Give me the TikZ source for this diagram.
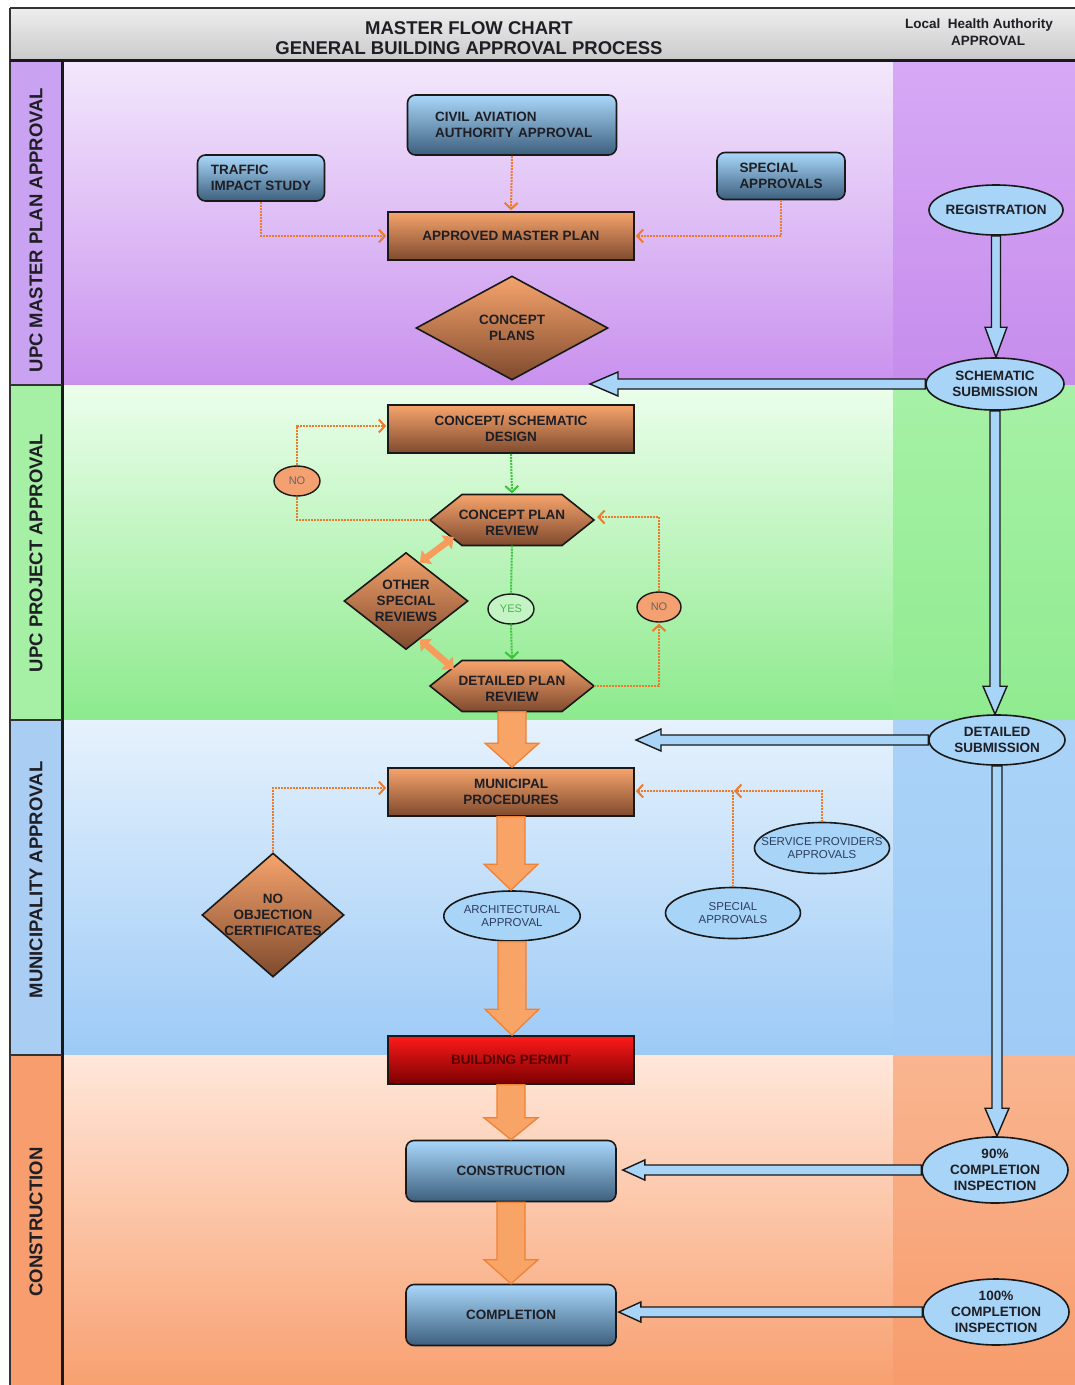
\documentclass[tikz,border=0pt]{standalone}
\usepackage{fontspec}
\setmainfont{Liberation Sans}
\usetikzlibrary{shapes.geometric,arrows.meta,calc}
\definecolor{hdrTop}{HTML}{EEEEEE}\definecolor{hdrBot}{HTML}{CACACA}
\definecolor{pTop}{HTML}{F3E8FC}\definecolor{pBot}{HTML}{C991EE}
\definecolor{pRT}{HTML}{D6A9F5}\definecolor{pRB}{HTML}{C68CEC}\definecolor{pLab}{HTML}{C9A3F2}
\definecolor{gTop}{HTML}{ECFEEC}\definecolor{gBot}{HTML}{8CEA8C}
\definecolor{gRT}{HTML}{A6F1A6}\definecolor{gRB}{HTML}{90EB90}\definecolor{gLab}{HTML}{A6F0A6}
\definecolor{bTop}{HTML}{E6F2FD}\definecolor{bBot}{HTML}{9CCAF6}
\definecolor{bRT}{HTML}{ABD3F8}\definecolor{bRB}{HTML}{9FCBF6}\definecolor{bLab}{HTML}{AACDF4}
\definecolor{oTop}{HTML}{FFE7DA}\definecolor{oBot}{HTML}{F8A070}
\definecolor{oRT}{HTML}{F9B590}\definecolor{oRB}{HTML}{F79C6C}\definecolor{oLab}{HTML}{F79D6E}
\definecolor{orTop}{HTML}{F6A46C}\definecolor{orMid}{HTML}{D9834F}\definecolor{orBot}{HTML}{7F4A2E}
\definecolor{blTop}{HTML}{A9D7FA}\definecolor{blMid}{HTML}{76A3CB}\definecolor{blBot}{HTML}{3D5F7D}
\definecolor{rdTop}{HTML}{FF1A1A}\definecolor{rdBot}{HTML}{7A0000}
\definecolor{lblue}{HTML}{A8D4F7}
\definecolor{arrFill}{HTML}{F8A467}\definecolor{arrEdge}{HTML}{EF8235}
\definecolor{dotOr}{HTML}{EE7A2C}\definecolor{dotGr}{HTML}{3CC43C}
\definecolor{noFill}{HTML}{F4A070}\definecolor{yesFill}{HTML}{C4F4C4}
\definecolor{txt}{HTML}{1E1E24}\definecolor{navy}{HTML}{2E3D5E}

\newcommand\blockdown[6]{\path[#1] let \p1=(#2), \p2=(#3) in (\x1-#4,\y1) -- (\x1-#4,\y2+#6) -- (\x1-#5,\y2+#6) -- (\x1,\y2) -- (\x1+#5,\y2+#6) -- (\x1+#4,\y2+#6) -- (\x1+#4,\y1) -- cycle;}
\newcommand\blockleft[6]{\path[#1] let \p1=(#2), \p2=(#3) in (\x1,\y1-#4) -- (\x2+#6,\y1-#4) -- (\x2+#6,\y1-#5) -- (\x2,\y1) -- (\x2+#6,\y1+#5) -- (\x2+#6,\y1+#4) -- (\x1,\y1+#4) -- cycle;}

\tikzset{
  bfont/.style={font=\bfseries\fontsize{13.5}{16}\selectfont},
  bx/.style={bfont, draw=black!90, line width=1.6pt, text=txt, align=center, inner sep=2pt},
  orgrad/.style={top color=orTop, middle color=orMid, bottom color=orBot},
  obox/.style={bx, rectangle, orgrad, minimum width=246pt, minimum height=48pt},
  bbox/.style={bx, rectangle, rounded corners=8pt, top color=blTop, middle color=blMid, bottom color=blBot},
  rbox/.style={bx, rectangle, top color=rdTop, bottom color=rdBot, minimum width=246pt, minimum height=48pt, text=rdBot!70!black},
  odiam/.style={bx, diamond, orgrad, inner sep=0pt},
  ell/.style={bx, ellipse, fill=lblue, inner sep=0pt},
  ellthin/.style={ell, font=\fontsize{11.5}{13}\selectfont, text=navy},
  hextext/.style={bfont, text=txt, align=center, minimum width=164pt, minimum height=51pt, inner sep=0pt},
  hexshape/.style={orgrad, draw=black!90, line width=1.6pt},
  small/.style={ellipse, draw=black!90, line width=1.4pt, inner sep=0pt, minimum width=46pt, minimum height=30pt, font=\fontsize{11}{12}\selectfont},
  dotbase/.style={line width=2pt, dash pattern=on 2pt off 1pt},
  tipb/.style={-{Straight Barb[length=6pt,width=13pt,line width=2pt]}, shorten >=1pt},
  odot/.style={draw=dotOr, dotbase, tipb},
  odotn/.style={draw=dotOr, dotbase},
  gdot/.style={draw=dotGr, dotbase, tipb},
  gdotn/.style={draw=dotGr, dotbase},
  bluearrow/.style={fill=lblue, draw=black!90, line width=1.4pt, line join=miter},
  orarrow/.style={fill=arrFill, draw=arrEdge, line width=1.3pt, line join=miter},
  dblarrow/.style={draw=arrFill!80!arrEdge, line width=6.5pt, {Triangle[length=9pt,width=17pt]}-{Triangle[length=9pt,width=17pt]}},
  lab/.style={rotate=90, font=\bfseries\fontsize{18.5}{20}\selectfont, text=txt},
}

\begin{document}
\begin{tikzpicture}[x=1pt,y=-1pt]
\useasboundingbox (0,0) rectangle (1075,1385);
\fill[white] (0,0) rectangle (1075,1385);
% header
\fill[top color=hdrTop, bottom color=hdrBot] (10,8) rectangle (1075,60);
% sections
\fill[top color=pTop, bottom color=pBot] (62,60) rectangle (893,385);
\fill[top color=pRT, bottom color=pRB] (893,60) rectangle (1075,385);
\fill[pLab] (10,60) rectangle (62,385);
\fill[top color=gTop, bottom color=gBot] (62,385) rectangle (893,720);
\fill[top color=gRT, bottom color=gRB] (893,385) rectangle (1075,720);
\fill[gLab] (10,385) rectangle (62,720);
\fill[top color=bTop, bottom color=bBot] (62,720) rectangle (893,1055);
\fill[top color=bRT, bottom color=bRB] (893,720) rectangle (1075,1055);
\fill[bLab] (10,720) rectangle (62,1055);
\fill[top color=oTop, bottom color=oBot] (62,1055) rectangle (893,1385);
\fill[top color=oRT, bottom color=oRB] (893,1055) rectangle (1075,1385);
\fill[oLab] (10,1055) rectangle (62,1385);
% frame lines
\draw[line width=1.5pt, black!80] (10,8) -- (1075,8);
\draw[line width=1.5pt, black!80] (10,8) -- (10,1385);
\draw[line width=3pt, black!90] (10,60) -- (1075,60);
\draw[line width=3pt, black!90] (62,60) -- (62,1385);
\draw[line width=1.2pt, black!80] (10,385) -- (62,385) (10,720) -- (62,720) (10,1055) -- (62,1055);

% header texts
\node[font=\bfseries\fontsize{18.5}{20}\selectfont, text=txt] (t1) at (469,28) {MASTER FLOW CHART};
\node[font=\bfseries\fontsize{18.5}{20}\selectfont, text=txt] (t2) at (469,48) {GENERAL BUILDING APPROVAL PROCESS};
\node[font=\bfseries\fontsize{13.5}{15}\selectfont, text=txt] (t3) at (979,25) {Local\ \ Health Authority};
\node[font=\bfseries\fontsize{13.5}{15}\selectfont, text=txt] (t4) at (988,41) {APPROVAL};

% lane labels
\node[lab] (l1) at (36,230) {UPC MASTER PLAN APPROVAL};
\node[lab] (l2) at (36,553) {UPC PROJECT APPROVAL};
\node[lab] (l3) at (36,880) {MUNICIPALITY APPROVAL};
\node[lab] (l4) at (36,1222) {CONSTRUCTION};

% master plan section
\node[bbox, minimum width=209pt, minimum height=60pt, align=left, text width=170pt, xshift=0pt] (civil) at (512,125) {\hspace*{8pt}CIVIL AVIATION\\\hspace*{8pt}AUTHORITY APPROVAL};
\node[bbox, minimum width=127pt, minimum height=46pt, align=left] (tis) at (261,178) {TRAFFIC\\IMPACT STUDY};
\node[bbox, minimum width=128pt, minimum height=47pt, align=left] (sa1) at (781,176) {SPECIAL\\APPROVALS};
\node[obox] (amp) at (511,236) {APPROVED MASTER PLAN};
\node[odiam, minimum width=192pt, minimum height=104pt] (cp) at (512,328) {CONCEPT\\PLANS};
\node[ell, minimum width=134pt, minimum height=50pt, inner xsep=-6pt] (reg) at (996,210) {REGISTRATION};
\node[ell, minimum width=138pt, minimum height=52pt] (sch) at (995,384) {SCHEMATIC\\SUBMISSION};

% project section
\node[obox] (csd) at (511,429) {CONCEPT/ SCHEMATIC\\DESIGN};
\node[small, fill=noFill, text=black!60] (no1) at (297,481) {NO};
\coordinate (cprc) at (512,520);
\path[hexshape] ($(cprc)+(-82,0)$) -- ($(cprc)+(-50,-25.5)$) -- ($(cprc)+(50,-25.5)$) -- ($(cprc)+(82,0)$) -- ($(cprc)+(50,25.5)$) -- ($(cprc)+(-50,25.5)$) -- cycle;
\node[hextext] (cpr) at (cprc) {\rule{0pt}{14pt}CONCEPT PLAN\\REVIEW};
\node[odiam, minimum width=124pt, minimum height=97pt, aspect=1.28] (osr) at (406,601) {OTHER\\SPECIAL\\REVIEWS};
\node[small, fill=yesFill, text=dotGr!75!gray] (yes) at (511,609) {YES};
\node[small, fill=noFill, text=black!60, minimum width=44pt] (no2) at (659,607) {NO};
\coordinate (dprc) at (512,686);
\path[hexshape] ($(dprc)+(-82,0)$) -- ($(dprc)+(-50,-25.5)$) -- ($(dprc)+(50,-25.5)$) -- ($(dprc)+(82,0)$) -- ($(dprc)+(50,25.5)$) -- ($(dprc)+(-50,25.5)$) -- cycle;
\node[hextext] (dpr) at (dprc) {\rule{0pt}{14pt}DETAILED PLAN\\REVIEW};

% municipality section
\node[ell, minimum width=136pt, minimum height=50pt] (ds) at (997,740) {DETAILED\\SUBMISSION};
\node[obox] (mp) at (511,792) {MUNICIPAL\\PROCEDURES};
\node[odiam, minimum width=142pt, minimum height=124pt, aspect=1.145, inner sep=-3pt] (noc) at (273,915) {NO\\OBJECTION\\CERTIFICATES};
\node[ellthin, minimum width=134pt, minimum height=50pt] (arch) at (512,916) {ARCHITECTURAL\\APPROVAL};
\node[ellthin, minimum width=135pt, minimum height=51pt, inner xsep=-14pt] (spa) at (822,848) {SERVICE PROVIDERS\\APPROVALS};
\node[ellthin, minimum width=135pt, minimum height=51pt] (sp2) at (733,913) {SPECIAL\\APPROVALS};
\node[rbox] (bp) at (511,1060) {BUILDING PERMIT};

% construction section
\node[bbox, minimum width=210pt, minimum height=61pt] (cons) at (511,1171) {CONSTRUCTION};
\node[bbox, minimum width=210pt, minimum height=61pt] (comp) at (511,1315) {COMPLETION};
\node[ell, minimum width=146pt, minimum height=66pt] (i90) at (995,1170) {90\%\\COMPLETION\\INSPECTION};
\node[ell, minimum width=146pt, minimum height=66pt] (i100) at (996,1312) {100\%\\COMPLETION\\INSPECTION};

% dotted connectors
\draw[odot] (tis.south) |- (amp.west);
\draw[odot] (civil.south) -- (amp.north);
\draw[odot] (sa1.south) |- (amp.east);
\draw[odotn] (cpr.west) -| (no1.south);
\draw[odot] (no1.north) |- ($(csd.west)+(0,-3)$);
\draw[gdot] (csd.south) -- (cpr.north);
\draw[gdotn] (cpr.south) -- (yes.north);
\draw[gdot] (yes.south) -- (dpr.north);
\draw[odot] (dpr.east) -| (no2.south);
\draw[odot] (no2.north) |- ($(cpr.east)+(2,-3)$);
\draw[odot] (noc.north) |- ($(mp.west)+(0,-4)$);
\coordinate (jn) at ($(sp2.north |- mp.east)+(0,-1)$);
\draw[odot] (spa.north) |- (jn);
\draw[odotn] (sp2.north) -- (jn);
\draw[odot] (jn) -- (jn -| mp.east);

% double arrows
\draw[dblarrow] ($(osr.north)!0.22!(osr.east)$) -- ($(cpr.west)+(24,17)$);
\draw[dblarrow] ($(osr.south)!0.22!(osr.east)$) -- ($(dpr.west)+(24,-17)$);

% orange block arrows
\blockdown{orarrow}{dpr.south}{mp.north}{14pt}{27pt}{24pt}
\blockdown{orarrow}{mp.south}{arch.north}{14pt}{27pt}{26pt}
\blockdown{orarrow}{arch.south}{bp.north}{14pt}{27pt}{26pt}
\blockdown{orarrow}{bp.south}{cons.north}{14pt}{27pt}{22pt}
\blockdown{orarrow}{cons.south}{comp.north}{14pt}{27pt}{24pt}

% blue block arrows
\blockdown{bluearrow}{reg.south}{sch.north}{4.5pt}{11pt}{30pt}
\blockdown{bluearrow}{sch.south}{ds.north}{5pt}{12pt}{28pt}
\blockdown{bluearrow}{ds.south}{i90.north}{5pt}{12pt}{28pt}
\coordinate (schL) at (590,384);
\coordinate (dsL) at (636,740);
\coordinate (consR) at ($(cons.east)+(6,0)$);
\coordinate (compR) at ($(comp.east)+(2,0)$);
\blockleft{bluearrow}{sch.west}{schL}{5pt}{12pt}{28pt}
\blockleft{bluearrow}{ds.west}{dsL}{5pt}{11pt}{25pt}
\blockleft{bluearrow}{i90.west}{consR}{5pt}{10pt}{22pt}
\blockleft{bluearrow}{i100.west}{compR}{5pt}{10pt}{22pt}
\end{tikzpicture}
\end{document}
